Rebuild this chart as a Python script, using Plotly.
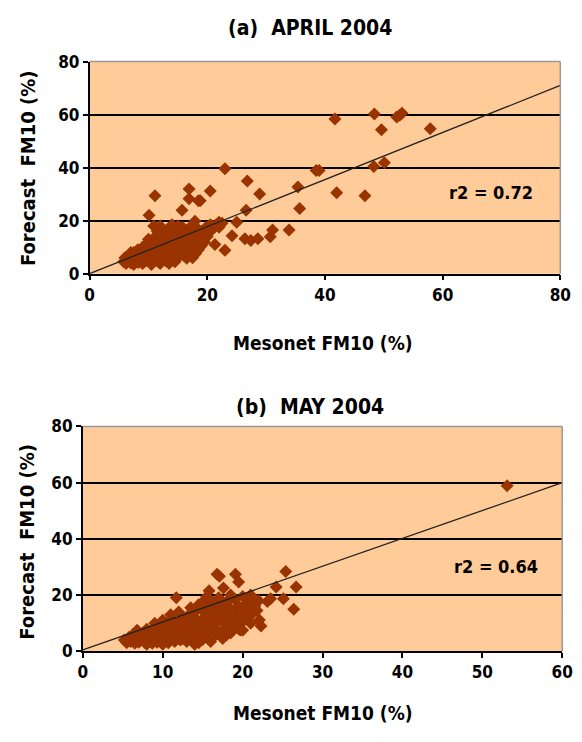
import plotly.graph_objects as go

# ---------------- data ----------------
april_mesonet = [
    41.7, 48.4, 49.6, 52.2, 52.7, 53.1, 57.9, 48.3, 50.1, 38.5, 39.0, 42.0, 46.8, 35.4, 35.7,
    23.0, 26.8, 20.5, 28.9, 26.6, 18.8, 25.0, 24.2, 21.3, 23.0, 26.4, 27.4, 28.6, 30.7, 31.1,
    33.9, 19.5, 20.8, 22.0, 11.1, 16.9, 16.9, 18.5, 15.7, 10.1, 10.9, 15.0, 17.9,
    5.8, 6.0, 6.2, 6.5, 6.8, 7.0, 7.2, 7.5, 7.5, 7.8, 8.0, 8.2, 8.3, 8.5, 8.8, 9.0, 9.0, 9.2,
    9.5, 9.5, 9.8, 10.0, 10.0, 10.2, 10.5, 10.5, 10.8, 11.0, 11.0, 11.2, 11.5, 11.5, 11.8, 12.0,
    12.0, 12.2, 12.5, 12.5, 12.7, 13.0, 13.0, 13.0, 13.2, 13.5, 13.5, 13.8, 14.0, 14.0, 14.2,
    14.5, 14.5, 14.8, 15.0, 15.0, 15.2, 15.5, 15.5, 15.8, 16.0, 16.0, 16.2, 16.5, 16.5, 16.8,
    17.0, 17.0, 17.3, 17.5, 17.5, 17.8, 18.0, 18.0, 18.3, 18.5, 18.5, 18.8, 19.0, 19.0, 19.5,
    19.8, 20.0, 20.5, 20.5, 21.0, 21.5, 22.0, 22.5, 10.0, 11.5, 12.0, 14.0, 9.0, 8.0, 7.0,
    12.0, 14.5, 16.5, 17.5, 10.5, 13.5, 11.0, 12.5, 14.0, 15.5, 17.0, 18.0, 16.0, 15.0,
]
april_forecast = [
    58.3, 60.2, 54.3, 59.1, 59.8, 60.5, 54.7, 40.4, 41.8, 38.9, 38.9, 30.5, 29.4, 32.7, 24.6,
    39.6, 35.0, 31.2, 30.1, 23.9, 27.5, 19.4, 14.3, 11.0, 8.8, 13.2, 12.5, 13.2, 13.9, 16.5,
    16.5, 13.9, 18.0, 19.4, 29.4, 31.9, 28.3, 27.5, 23.9, 22.0, 18.0, 18.0, 19.8,
    4.5, 6.0, 3.8, 5.2, 7.0, 4.0, 6.0, 8.0, 3.5, 5.0, 6.8, 9.0, 4.2, 5.8, 7.5, 3.8, 10.0, 6.2,
    8.5, 4.8, 11.5, 7.0, 5.5, 9.5, 12.5, 4.2, 8.0, 6.0, 10.5, 14.0, 7.5, 4.8, 12.0, 9.0,
    5.8, 15.5, 11.0, 7.0, 13.5, 4.8, 8.5, 10.0, 16.0, 12.5, 6.5, 14.5, 9.0, 5.5, 11.5,
    17.0, 7.5, 13.5, 10.0, 6.0, 15.5, 8.5, 12.0, 17.5, 7.0, 10.5, 14.0, 9.0, 16.0, 12.5,
    7.5, 10.5, 18.0, 13.5, 8.5, 15.5, 11.0, 7.5, 17.0, 12.5, 9.0, 14.5, 10.5, 16.0, 12.0,
    17.5, 14.0, 16.0, 18.5, 17.0, 18.5, 17.5, 19.0, 13.0, 16.0, 18.0, 18.5, 7.0, 8.5, 8.0,
    3.8, 4.5, 5.8, 6.0, 3.5, 3.8, 8.5, 9.0, 10.5, 11.0, 12.0, 13.5, 13.0, 14.0,
]

may_mesonet = [
    53.1, 25.4, 26.7, 26.4, 24.2, 25.1, 11.7, 16.8, 17.1, 19.1, 19.5, 17.6, 15.8, 15.5, 22.1,
    22.3, 20.9, 18.0, 19.7, 15.0, 23.1, 23.5, 21.0, 22.0,
    5.2, 5.5, 5.8, 6.0, 6.3, 6.5, 6.5, 6.8, 7.0, 7.0, 7.3, 7.5, 7.8, 8.0, 8.0, 8.3, 8.5, 8.7,
    8.8, 9.0, 9.0, 9.3, 9.5, 9.5, 9.8, 10.0, 10.0, 10.2, 10.5, 10.5, 10.7, 11.0, 11.0, 11.0,
    11.3, 11.5, 11.5, 11.8, 12.0, 12.0, 12.2, 12.5, 12.5, 12.8, 13.0, 13.0, 13.0, 13.3, 13.5,
    13.5, 13.8, 14.0, 14.0, 14.0, 14.3, 14.5, 14.5, 14.8, 15.0, 15.0, 15.2, 15.5, 15.5, 15.7,
    16.0, 16.0, 16.0, 16.2, 16.5, 16.5, 16.7, 17.0, 17.0, 17.2, 17.5, 17.5, 17.8, 18.0, 18.0,
    18.2, 18.5, 18.5, 18.8, 19.0, 19.0, 19.3, 19.5, 19.5, 19.8, 20.0, 20.0, 20.3, 20.5, 20.7,
    21.0, 21.2, 21.5, 21.8, 12.5, 11.0, 10.0, 9.0, 14.5, 16.0, 17.0, 18.5, 13.5, 12.0, 15.0,
    20.0, 21.0, 14.0, 10.0, 8.0,
]
may_forecast = [
    58.9, 28.4, 22.9, 14.9, 22.9, 18.7, 19.0, 27.4, 26.7, 27.4, 24.6, 22.5, 21.5, 19.4, 11.1,
    9.0, 12.5, 5.9, 7.6, 4.2, 17.7, 18.7, 20.0, 18.0,
    4.0, 3.0, 5.0, 3.5, 6.0, 2.8, 4.5, 7.5, 3.2, 5.5, 4.0, 6.5, 3.0, 5.0, 7.8, 4.0, 6.0, 2.8,
    8.0, 4.5, 7.0, 3.2, 5.5, 9.0, 6.5, 3.5, 8.0, 5.0, 10.0, 6.5, 3.0, 4.5, 7.5, 9.0,
    11.0, 5.5, 3.5, 8.5, 6.5, 10.5, 4.0, 12.0, 7.5, 9.5, 3.5, 5.5, 11.0, 13.0, 7.0,
    9.0, 4.5, 12.0, 6.0, 14.0, 10.0, 8.0, 3.0, 15.0, 11.5, 6.5, 9.0, 13.5, 5.0, 16.0,
    7.5, 11.0, 3.5, 14.5, 9.5, 5.5, 17.0, 12.5, 7.0, 15.5, 10.5, 4.5, 13.5, 8.5, 17.5,
    11.5, 15.0, 6.5, 9.5, 13.0, 18.5, 11.0, 16.0, 8.0, 14.0, 19.5, 10.5, 12.5, 17.0, 15.0,
    13.5, 18.5, 16.0, 14.5, 4.5, 13.0, 11.0, 10.0, 16.5, 18.0, 19.0, 20.0, 15.5, 14.0, 17.5,
    7.5, 10.0, 2.5, 2.5, 2.5,
]

april_trend_x = [0, 80]
april_trend_y = [0, 71]
may_trend_x = [0, 60]
may_trend_y = [0.5, 60]

y_ticks = [0, 20, 40, 60, 80]
april_x_ticks = [0, 20, 40, 60, 80]
may_x_ticks = [0, 10, 20, 30, 40, 50, 60]

# ---------------- styling ----------------
FONT = "DejaVu Sans Condensed, Liberation Sans Narrow, Arial Narrow, sans-serif"
MARK = "#993300"
BG = "#FFCC99"

fig = go.Figure()

fig.add_trace(go.Scatter(x=april_mesonet, y=april_forecast, mode="markers",
                         marker=dict(symbol="diamond", size=10, color=MARK),
                         xaxis="x", yaxis="y", showlegend=False))
fig.add_trace(go.Scatter(x=april_trend_x, y=april_trend_y, mode="lines",
                         line=dict(color="#222222", width=1.3),
                         xaxis="x", yaxis="y", showlegend=False))
fig.add_trace(go.Scatter(x=may_mesonet, y=may_forecast, mode="markers",
                         marker=dict(symbol="diamond", size=10, color=MARK),
                         xaxis="x2", yaxis="y2", showlegend=False))
fig.add_trace(go.Scatter(x=may_trend_x, y=may_trend_y, mode="lines",
                         line=dict(color="#222222", width=1.3),
                         xaxis="x2", yaxis="y2", showlegend=False))

W, H = 582, 742
dom_a_x = [87 / W, 571 / W]
dom_a_y = [1 - 271 / H, 1 - 53 / H]
dom_b_x = [80 / W, 573 / W]
dom_b_y = [1 - 659 / H, 1 - 428 / H]

tickfont = dict(family=FONT, size=17, color="black", weight="bold")
axis_common = dict(showline=True, linecolor="black", linewidth=1.5, ticks="outside",
                   ticklen=5, tickwidth=1.5, tickcolor="black", tickfont=tickfont,
                   zeroline=False)

fig.update_layout(
    width=W, height=H, margin=dict(l=0, r=0, t=0, b=0),
    paper_bgcolor="white", plot_bgcolor=BG,
    xaxis=dict(domain=dom_a_x, range=[0, 80], tickvals=april_x_ticks, showgrid=False,
               anchor="y", **axis_common),
    yaxis=dict(domain=dom_a_y, range=[0, 80], tickvals=y_ticks, showgrid=True,
               gridcolor="black", gridwidth=1.6, anchor="x", **axis_common),
    xaxis2=dict(domain=dom_b_x, range=[0, 60], tickvals=may_x_ticks, showgrid=False,
                anchor="y2", **axis_common),
    yaxis2=dict(domain=dom_b_y, range=[0, 80], tickvals=y_ticks, showgrid=True,
                gridcolor="black", gridwidth=1.6, anchor="x2", **axis_common),
)

# gray top/right frame
for xd, yd in [(dom_a_x, dom_a_y), (dom_b_x, dom_b_y)]:
    fig.add_shape(type="line", xref="paper", yref="paper", x0=xd[0], x1=xd[1], y0=yd[1], y1=yd[1],
                  line=dict(color="#999999", width=1.6), layer="above")
    fig.add_shape(type="line", xref="paper", yref="paper", x0=xd[1], x1=xd[1], y0=yd[0], y1=yd[1],
                  line=dict(color="#999999", width=1.5), layer="above")

def txt(text, x, y, size, angle=0):
    fig.add_annotation(text=text, xref="paper", yref="paper", x=x / W, y=1 - y / H,
                       showarrow=False, textangle=angle, xanchor="center", yanchor="middle",
                       font=dict(family=FONT, size=size, color="black", weight="bold"))

txt("(a)  APRIL 2004", 314, 18, 21)
txt("(b)  MAY 2004", 314, 408, 21)
txt("Mesonet FM10 (%)", 327, 342, 19)
txt("Mesonet FM10 (%)", 327, 722, 19)
txt("Forecast  FM10 (%)", 23, 162, 20, -90)
txt("Forecast  FM10 (%)", 23, 546, 20, -90)
txt("r2 = 0.72", 500, 188, 18)
txt("r2 = 0.64", 505, 572, 18)

fig.write_html("out.html")
